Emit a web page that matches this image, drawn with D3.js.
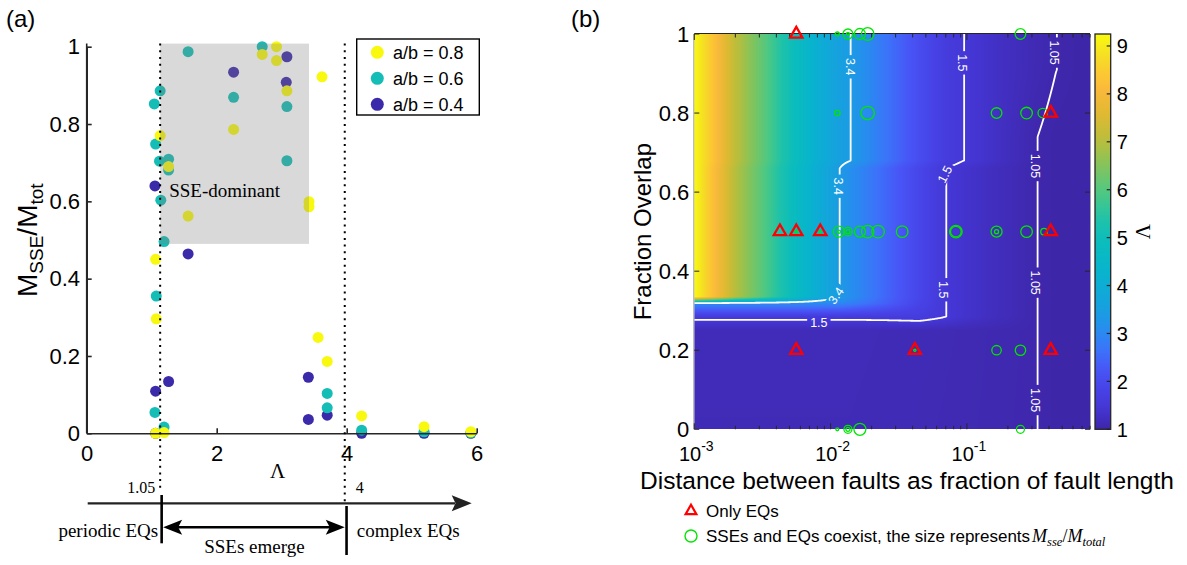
<!DOCTYPE html>
<html>
<head>
<meta charset="utf-8">
<script src="https://cdnjs.cloudflare.com/ajax/libs/d3/7.8.5/d3.min.js"></script>
<style>
  body { margin: 0; background: #fff; }
  svg text { font-family: Arial, "Liberation Sans", Helvetica, sans-serif; fill: #000; }
  svg .serif { font-family: "Liberation Serif", "Times New Roman", serif; }
</style>
</head>
<body>
<svg id="chart" width="1187" height="565"></svg>
<script>
// ---------- panel (a): [Lambda, Msse/Mtot] for each a/b ----------
const abLabels = ["a/b = 0.8", "a/b = 0.6", "a/b = 0.4"];
const pointsAB08 = [
  [1.06, 0.450], [1.07, 0.296], [1.13, 0.770], [1.26, 0.690], [1.56, 0.562], [2.26, 0.786],
  [2.70, 0.980], [2.92, 1.000], [2.92, 0.964], [3.08, 0.886], [3.42, 0.599], [3.42, 0.586],
  [3.62, 0.922], [3.56, 0.248], [3.70, 0.186], [1.06, 0.000], [1.19, 0.002], [4.23, 0.045],
  [5.19, 0.017], [5.91, 0.004]
];
const pointsAB06 = [
  [1.56, 0.987], [2.70, 1.000], [3.08, 0.845], [2.26, 0.869], [3.08, 0.705], [1.13, 0.886],
  [1.04, 0.852], [1.06, 0.748], [1.12, 0.704], [1.26, 0.709], [1.26, 0.681], [1.14, 0.603],
  [1.19, 0.496], [1.07, 0.355], [1.05, 0.054], [1.19, 0.016], [3.70, 0.103], [3.70, 0.066],
  [4.23, 0.008], [5.19, 0.004], [5.91, 0.001]
];
const pointsAB04 = [
  [3.08, 0.974], [2.26, 0.934], [3.07, 0.908], [1.05, 0.640], [1.56, 0.464], [1.06, 0.109],
  [1.26, 0.134], [3.41, 0.145], [3.70, 0.047], [3.41, 0.036], [4.23, 0.000], [5.19, 0.000],
  [5.91, 0.000], [1.06, 0.000]
];
const aXTicks = [0, 2, 4, 6];
const aYTicks = [0, 0.2, 0.4, 0.6, 0.8, 1];
const regimeBounds = [1.13, 3.97];          // dotted lines
const regimeBoundLabels = ["1.05", "4"];
const sseBox = { x0: 1.13, x1: 3.42, y0: 0.49, y1: 1.008 };

// ---------- panel (b): Lambda field over distance x overlap ----------
const distCols = [0.001, 0.0014, 0.002, 0.0032, 0.005, 0.0079, 0.0115, 0.0138, 0.025, 0.045, 0.069, 0.093, 0.16, 0.32, 0.45, 0.8];
const overlapRows = [0, 0.25, 0.285, 0.318, 0.335, 0.66, 0.68, 0.74, 0.91, 1];
const lambdaGrid = [
  [1.15, 1.15, 1.15, 1.15, 1.15, 1.15, 1.15, 1.15, 1.14, 1.13, 1.12, 1.11, 1.08, 1.055, 1.00, 0.96],
  [1.16, 1.16, 1.16, 1.16, 1.16, 1.16, 1.16, 1.16, 1.15, 1.14, 1.13, 1.12, 1.09, 1.055, 1.00, 0.96],
  [1.60, 1.60, 1.60, 1.60, 1.60, 1.60, 1.60, 1.60, 1.62, 1.66, 1.51, 1.38, 1.22, 1.055, 1.00, 0.96],
  [3.00, 3.00, 3.00, 3.00, 3.00, 3.00, 2.95, 2.85, 2.40, 1.85, 1.51, 1.38, 1.22, 1.055, 1.00, 0.96],
  [9.25, 8.20, 7.00, 6.00, 5.00, 4.00, 3.42, 3.15, 2.50, 1.90, 1.51, 1.38, 1.22, 1.055, 1.00, 0.96],
  [9.25, 8.20, 7.00, 6.00, 5.00, 4.00, 3.42, 3.15, 2.50, 1.90, 1.51, 1.38, 1.22, 1.055, 1.00, 0.96],
  [9.25, 8.30, 7.10, 6.10, 5.10, 4.10, 3.55, 3.42, 2.70, 2.05, 1.65, 1.51, 1.30, 1.055, 1.00, 0.96],
  [9.25, 8.30, 7.10, 6.10, 5.10, 4.10, 3.55, 3.42, 2.70, 2.05, 1.65, 1.51, 1.30, 1.055, 1.00, 0.96],
  [9.25, 8.30, 7.10, 6.10, 5.10, 4.10, 3.55, 3.42, 2.70, 2.05, 1.65, 1.51, 1.30, 1.12, 1.052, 0.98],
  [9.25, 8.30, 7.10, 6.10, 5.10, 4.10, 3.55, 3.42, 2.70, 2.05, 1.65, 1.51, 1.30, 1.12, 1.052, 0.98]
];
const lambdaRange = [1, 9.25];
const contourLevels = [1.05, 1.5, 3.4];
// [level, distance, overlap, label angle]
const contourLabels = [
  [3.4, 0.01387, 0.917, 90], [3.4, 0.01148, 0.615, 90], [3.4, 0.01094, 0.338, -55],
  [1.5, 0.0933, 0.927, 90], [1.5, 0.0689, 0.645, -63], [1.5, 0.0676, 0.353, 90], [1.5, 0.0082, 0.27, 0],
  [1.05, 0.4406, 0.953, 90], [1.05, 0.32, 0.666, 90], [1.05, 0.32, 0.371, 90], [1.05, 0.32, 0.074, 90]
];
// runs with earthquakes only: [distance, overlap]
const onlyEQs = [
  [0.0056, 1], [0.412, 0.8], [0.00425, 0.5], [0.0056, 0.5], [0.0084, 0.5], [0.412, 0.5],
  [0.0056, 0.2], [0.0415, 0.2], [0.412, 0.2]
];
// runs where SSEs and EQs coexist: [distance, overlap, Msse/Mtotal]
const coexist = [
  [0.0112, 1, 0.17], [0.0134, 1, 0.67], [0.0134, 1, 0.08], [0.0164, 1, 0.75], [0.0187, 1, 0.88], [0.247, 1, 0.72],
  [0.0112, 0.8, 0.28], [0.0187, 0.8, 0.95], [0.165, 0.8, 0.72], [0.274, 0.8, 0.8], [0.36, 0.8, 0.62],
  [0.0115, 0.5, 0.75], [0.0115, 0.5, 0.1], [0.0134, 0.5, 0.53], [0.0134, 0.5, 0.17], [0.0164, 0.5, 0.75],
  [0.0187, 0.5, 0.87], [0.0223, 0.5, 0.88], [0.0335, 0.5, 0.8], [0.083, 0.5, 0.88], [0.083, 0.5, 0.72],
  [0.165, 0.5, 0.75], [0.165, 0.5, 0.17], [0.274, 0.5, 0.8], [0.368, 0.5, 0.38],
  [0.0056, 0.5, 0.02], [0.0084, 0.5, 0.02], [0.0415, 0.2, 0.02],
  [0.165, 0.2, 0.62], [0.247, 0.2, 0.7],
  [0.0112, 0, 0.08], [0.0134, 0, 0.5], [0.0134, 0, 0.17], [0.0164, 0, 0.83], [0.247, 0, 0.5]
];
const bXTicks = [1e-3, 1e-2, 1e-1];
const bXTickExp = ["-3", "-2", "-1"];
const bYTicks = [0, 0.2, 0.4, 0.6, 0.8, 1];
const cbTicks = [1, 2, 3, 4, 5, 6, 7, 8, 9];

// parula-like colour map
const parulaStops = [
  [0.00, 62, 38, 168], [0.05, 68, 53, 210], [0.10, 71, 66, 230], [0.15, 72, 85, 246],
  [0.20, 60, 115, 250], [0.25, 40, 140, 240], [0.30, 25, 158, 225], [0.35, 15, 170, 215],
  [0.40, 8, 180, 205], [0.47, 10, 188, 190], [0.53, 30, 194, 170], [0.60, 80, 200, 130],
  [0.67, 135, 195, 90], [0.73, 185, 190, 60], [0.80, 225, 185, 50], [0.86, 250, 185, 60],
  [0.90, 252, 200, 50], [0.95, 245, 225, 35], [1.00, 249, 251, 14]
];
function parula(t) {
  t = Math.max(0, Math.min(1, t));
  let k = 0;
  while (k < parulaStops.length - 2 && t > parulaStops[k + 1][0]) k++;
  const a = parulaStops[k], b = parulaStops[k + 1];
  const u = (t - a[0]) / (b[0] - a[0]);
  return [1, 2, 3].map(i => a[i] + (b[i] - a[i]) * u);
}

const W = 1187, H = 565;
const svg = d3.select("#chart");
const defs = svg.append("defs");

// =================== panel (a) ===================
const xa = d3.scaleLinear().domain([0, 6]).range([86.7, 476.7]);
const ya = d3.scaleLinear().domain([0, 1]).range([433.3, 46.7]);
const ga = svg.append("g");

const aSeries = [
  { name: abLabels[0], pts: pointsAB08, color: "#f9f90f" },
  { name: abLabels[1], pts: pointsAB06, color: "#14bdb5" },
  { name: abLabels[2], pts: pointsAB04, color: "#3b2aa9" }
];

// draw 0.4 first, 0.8 last
aSeries.slice().reverse().forEach(s => {
  ga.append("g").selectAll("circle")
    .data(s.pts)
    .join("circle")
    .attr("cx", d => xa(d[0]))
    .attr("cy", d => ya(d[1]))
    .attr("r", 5.5)
    .attr("fill", s.color);
});

// SSE-dominant shaded box (drawn over the points)
ga.append("rect")
  .attr("x", xa(sseBox.x0)).attr("y", ya(sseBox.y1))
  .attr("width", xa(sseBox.x1) - xa(sseBox.x0))
  .attr("height", ya(sseBox.y0) - ya(sseBox.y1))
  .attr("fill", "#808080").attr("opacity", 0.3);

ga.append("text").attr("class", "serif")
  .attr("x", xa(sseBox.x0) + 9).attr("y", 196.7)
  .attr("font-size", 19).text("SSE-dominant");

// axes
const fmt = d3.format("~g");
const axA = ga.append("g").attr("transform", `translate(${xa(0)},0)`)
  .call(d3.axisLeft(ya).tickValues(aYTicks).tickSize(-5).tickSizeOuter(0).tickPadding(6.7).tickFormat(fmt));
const axB = ga.append("g").attr("transform", `translate(0,${ya(0)})`)
  .call(d3.axisBottom(xa).tickValues(aXTicks).tickSize(-5).tickSizeOuter(0).tickPadding(12).tickFormat(fmt));
[axA, axB].forEach(ax => {
  ax.attr("font-family", null).attr("font-size", 22);
  ax.select(".domain").attr("stroke", "#262626").attr("stroke-width", 1.6);
  ax.selectAll(".tick line").attr("stroke", "#262626").attr("stroke-width", 1.6);
  ax.selectAll(".tick text").attr("fill", "#000");
});
ga.append("line").attr("x1", xa(0)).attr("x2", xa(0)).attr("y1", ya(0)).attr("y2", ya(1.008))
  .attr("stroke", "#262626").attr("stroke-width", 1.6);

// dotted regime boundaries
const dotEnds = [492, 503];
regimeBounds.forEach((b, i) => {
  ga.append("line")
    .attr("x1", xa(b)).attr("x2", xa(b))
    .attr("y1", ya(1.008)).attr("y2", dotEnds[i])
    .attr("stroke", "#000").attr("stroke-width", 2)
    .attr("stroke-dasharray", "2 4.7");
});

// y label M_SSE/M_tot
const yl = ga.append("text")
  .attr("transform", "translate(37,297) rotate(-90)")
  .attr("font-size", 28);
yl.append("tspan").text("M");
yl.append("tspan").attr("font-size", 19).attr("dy", 6).text("SSE");
yl.append("tspan").attr("dy", -6).text("/M");
yl.append("tspan").attr("font-size", 19).attr("dy", 6).text("tot");

ga.append("text").attr("class", "serif")
  .attr("x", xa(3) - 4).attr("y", 478).attr("text-anchor", "middle")
  .attr("font-size", 21).text("Λ");

// legend (a)
const lg = ga.append("g");
lg.append("rect").attr("x", 356.7).attr("y", 39).attr("width", 122.6).attr("height", 76)
  .attr("fill", "#fff").attr("stroke", "#000").attr("stroke-width", 1.4);
aSeries.forEach((s, i) => {
  lg.append("circle").attr("cx", 377.3).attr("cy", 52.3 + i * 26).attr("r", 6.5).attr("fill", s.color);
  lg.append("text").attr("x", 393).attr("y", 52.3 + i * 26 + 6.5).attr("font-size", 18).text(s.name);
});

// regime arrow diagram
const arrowY = 503.3, dblY = 527.3;
const xs = regimeBounds.map(b => xa(b));
ga.append("line").attr("x1", xa(0) + 1).attr("x2", 455).attr("y1", arrowY).attr("y2", arrowY)
  .attr("stroke", "#222").attr("stroke-width", 2.2);
ga.append("path").attr("d", `M471.7,${arrowY} L451.7,${arrowY - 8} L455.5,${arrowY} L451.7,${arrowY + 8} Z`).attr("fill", "#222");
ga.append("line").attr("x1", xs[0] + 1.5).attr("x2", xs[0] + 1.5).attr("y1", 495).attr("y2", 543.3)
  .attr("stroke", "#000").attr("stroke-width", 2.6);
ga.append("line").attr("x1", xs[1] + 1.8).attr("x2", xs[1] + 1.8).attr("y1", 506).attr("y2", 555)
  .attr("stroke", "#000").attr("stroke-width", 2.6);
const la = xs[0] + 3, lb = xs[1];
ga.append("line").attr("x1", la + 12).attr("x2", lb - 12).attr("y1", dblY).attr("y2", dblY)
  .attr("stroke", "#000").attr("stroke-width", 2.6);
ga.append("path").attr("d", `M${la},${dblY} L${la + 19},${dblY - 7.5} L${la + 15},${dblY} L${la + 19},${dblY + 7.5} Z`);
ga.append("path").attr("d", `M${lb},${dblY} L${lb - 19},${dblY - 7.5} L${lb - 15},${dblY} L${lb - 19},${dblY + 7.5} Z`);

ga.append("text").attr("class", "serif").attr("x", xs[0] - 5).attr("y", 493.3)
  .attr("text-anchor", "end").attr("font-size", 16).text(regimeBoundLabels[0]);
ga.append("text").attr("class", "serif").attr("x", xs[1] + 11).attr("y", 493.3)
  .attr("font-size", 16).text(regimeBoundLabels[1]);
ga.append("text").attr("class", "serif").attr("x", xs[0] - 2).attr("y", 536.7)
  .attr("text-anchor", "end").attr("font-size", 19).text("periodic EQs");
ga.append("text").attr("class", "serif").attr("x", xs[1] + 12).attr("y", 536.7)
  .attr("font-size", 19).text("complex EQs");
ga.append("text").attr("class", "serif").attr("x", (xs[0] + xs[1]) / 2 + 2).attr("y", 553.3)
  .attr("text-anchor", "middle").attr("font-size", 19).text("SSEs emerge");

svg.append("text").attr("x", 6).attr("y", 27).attr("font-size", 24).text("(a)");
svg.append("text").attr("x", 571).attr("y", 27).attr("font-size", 24).text("(b)");

// =================== panel (b) ===================
const bx = d3.scaleLog().domain([1e-3, 0.8]).range([694.3, 1090]);
const by = d3.scaleLinear().domain([0, 1]).range([429.3, 34]);
const x0 = bx.range()[0], x1 = bx.range()[1], y0 = by.range()[1], y1 = by.range()[0];
const pw = Math.round(x1 - x0), ph = Math.round(y1 - y0);
const logCols = distCols.map(Math.log10);
const cnorm = d3.scaleLinear().domain(lambdaRange).range([0, 1]).clamp(true);

function cellIndex(arr, v) {
  const k = d3.bisectRight(arr, v) - 1;
  return Math.max(0, Math.min(arr.length - 2, k));
}
function lambdaAt(ld, f) {
  const i = cellIndex(logCols, ld), j = cellIndex(overlapRows, f);
  const tx = Math.max(0, Math.min(1, (ld - logCols[i]) / (logCols[i + 1] - logCols[i])));
  const ty = Math.max(0, Math.min(1, (f - overlapRows[j]) / (overlapRows[j + 1] - overlapRows[j])));
  const r0 = lambdaGrid[j], r1 = lambdaGrid[j + 1];
  const a = r0[i] * (1 - tx) + r0[i + 1] * tx;
  const b = r1[i] * (1 - tx) + r1[i + 1] * tx;
  return a * (1 - ty) + b * ty;
}
function valueAtPixel(px, py) {
  const ld = Math.log10(bx.invert(px));
  return lambdaAt(ld, by.invert(py));
}

// heat map image
const canvas = document.createElement("canvas");
canvas.width = pw; canvas.height = ph;
const ctx = canvas.getContext("2d");
const img = ctx.createImageData(pw, ph);
for (let j = 0; j < ph; j++) {
  for (let i = 0; i < pw; i++) {
    const c = parula(cnorm(valueAtPixel(x0 + i + 0.5, y0 + j + 0.5)));
    const o = (j * pw + i) * 4;
    img.data[o] = c[0]; img.data[o + 1] = c[1]; img.data[o + 2] = c[2]; img.data[o + 3] = 255;
  }
}
ctx.putImageData(img, 0, 0);
const gb = svg.append("g");
gb.append("image").attr("href", canvas.toDataURL())
  .attr("x", x0).attr("y", y0).attr("width", pw).attr("height", ph)
  .attr("preserveAspectRatio", "none");

// contours
const pad = 4, cn = pw + 2 * pad, cm = ph + 2 * pad;
const cvals = new Float64Array(cn * cm);
for (let j = 0; j < cm; j++) {
  for (let i = 0; i < cn; i++) {
    cvals[j * cn + i] = valueAtPixel(x0 - pad + i + 0.5, y0 - pad + j + 0.5);
  }
}
const isos = d3.contours().size([cn, cm]).thresholds(contourLevels)(cvals);

defs.append("clipPath").attr("id", "bclip").append("rect")
  .attr("x", x0).attr("y", y0).attr("width", pw).attr("height", ph);
const gapMask = defs.append("mask").attr("id", "gapmask")
  .attr("maskUnits", "userSpaceOnUse").attr("x", 0).attr("y", 0).attr("width", W).attr("height", H);
gapMask.append("rect").attr("width", W).attr("height", H).attr("fill", "#fff");

const cg = gb.append("g").attr("clip-path", "url(#bclip)").attr("mask", "url(#gapmask)");
cg.append("g").attr("transform", `translate(${x0 - pad},${y0 - pad})`)
  .selectAll("path")
  .data(isos)
  .join("path")
  .attr("d", d3.geoPath())
  .attr("fill", "none")
  .attr("stroke", "#fff")
  .attr("stroke-width", 1.8)
  .attr("stroke-linejoin", "round");

const labG = gb.append("g");
contourLabels.forEach(([lev, d, f, ang]) => {
  const px = bx(d), py = by(f);
  const t = labG.append("text")
    .attr("transform", `translate(${px},${py}) rotate(${ang})`)
    .attr("text-anchor", "middle").attr("dy", "0.35em")
    .attr("font-size", 12.5).style("fill", "#fff")
    .text(String(lev));
  const len = t.node().getComputedTextLength();
  gapMask.append("rect")
    .attr("x", -len / 2 - 3).attr("y", -5.5).attr("width", len + 6).attr("height", 11)
    .attr("transform", `translate(${px},${py}) rotate(${ang})`)
    .attr("fill", "#000");
});

// frame and ticks
gb.append("line").attr("x1", x0).attr("x2", x1).attr("y1", y0 - 0.5).attr("y2", y0 - 0.5)
  .attr("stroke", "#262626").attr("stroke-width", 1.2);
gb.append("line").attr("x1", x0 - 0.5).attr("x2", x0 - 0.5).attr("y1", y0).attr("y2", y1)
  .attr("stroke", "#a0a0a0").attr("stroke-width", 1);
gb.append("line").attr("x1", x1 + 0.5).attr("x2", x1 + 0.5).attr("y1", y0).attr("y2", y1)
  .attr("stroke", "#a0a0a0").attr("stroke-width", 1);

const minor = bx.ticks().filter(v => v >= 1e-3 && v <= 0.8);
[[y1, -1], [y0, 1]].forEach(([yy, dir]) => {
  gb.append("g").selectAll("line").data(minor).join("line")
    .attr("x1", d => bx(d)).attr("x2", d => bx(d))
    .attr("y1", yy).attr("y2", d => yy + dir * (bXTicks.includes(d) ? 6 : 3.5))
    .attr("stroke", "#262626").attr("stroke-width", 1);
});
[[x0, 1], [x1, -1]].forEach(([xx, dir]) => {
  gb.append("g").selectAll("line").data(bYTicks).join("line")
    .attr("x1", xx).attr("x2", xx + dir * 5)
    .attr("y1", d => by(d)).attr("y2", d => by(d))
    .attr("stroke", "#262626").attr("stroke-width", 1);
});

gb.append("g").selectAll("text").data(bYTicks).join("text")
  .attr("x", x0 - 5).attr("y", d => by(d)).attr("dy", "0.36em")
  .attr("text-anchor", "end").attr("font-size", 22)
  .text(fmt);

const xt = gb.append("g").selectAll("text").data(bXTicks).join("text")
  .attr("x", d => bx(d) + 2).attr("y", 461).attr("text-anchor", "middle").attr("font-size", 20);
xt.append("tspan").text("10");
xt.append("tspan").attr("font-size", 14).attr("dy", -10).text((d, i) => bXTickExp[i]);

gb.append("text").attr("x", 907).attr("y", 489).attr("text-anchor", "middle")
  .attr("font-size", 24.5).text("Distance between faults as fraction of fault length");
gb.append("text").attr("transform", `translate(651,${by(0.5)}) rotate(-90)`)
  .attr("text-anchor", "middle").attr("font-size", 24).text("Fraction Overlap");

// markers
const rScale = d3.scaleLinear().domain([0, 1]).range([1, 7]);
gb.append("g").selectAll("circle").data(coexist).join("circle")
  .attr("cx", d => bx(d[0])).attr("cy", d => by(d[1])).attr("r", d => rScale(d[2]))
  .attr("fill", "none").attr("stroke", "#00e600").attr("stroke-width", 1.3);
const tri = d3.symbol(d3.symbolTriangle, 66);
gb.append("g").selectAll("path").data(onlyEQs).join("path")
  .attr("transform", d => `translate(${bx(d[0])},${by(d[1])})`)
  .attr("d", tri).attr("fill", "none").attr("stroke", "#ff0000").attr("stroke-width", 2.3);

// colour bar
const cbx = 1095, cbw = 15.7;
const cby = d3.scaleLinear().domain(lambdaRange).range([y1, y0]);
const grad = defs.append("linearGradient").attr("id", "cbgrad")
  .attr("x1", 0).attr("y1", 1).attr("x2", 0).attr("y2", 0);
d3.range(0, 1.0001, 0.02).forEach(t => {
  const c = parula(t);
  grad.append("stop").attr("offset", t).attr("stop-color", `rgb(${c.map(Math.round).join(",")})`);
});
gb.append("rect").attr("x", cbx).attr("y", y0).attr("width", cbw).attr("height", y1 - y0)
  .attr("fill", "url(#cbgrad)").attr("stroke", "#262626").attr("stroke-width", 1.3);
gb.append("g").selectAll("line").data(cbTicks).join("line")
  .attr("x1", cbx + cbw).attr("x2", cbx + cbw - 4).attr("y1", d => cby(d)).attr("y2", d => cby(d))
  .attr("stroke", "#262626").attr("stroke-width", 1.2);
gb.append("g").selectAll("text").data(cbTicks).join("text")
  .attr("x", cbx + cbw + 6).attr("y", d => cby(d)).attr("dy", "0.36em")
  .attr("font-size", 20).text(d => d);
gb.append("text").attr("class", "serif")
  .attr("transform", `translate(1150,${by(0.5)}) rotate(-90)`)
  .attr("text-anchor", "middle").attr("font-size", 21).text("Λ");

// legend (b)
gb.append("path").attr("transform", "translate(691,511)")
  .attr("d", d3.symbol(d3.symbolTriangle, 50)).attr("fill", "none")
  .attr("stroke", "#ff0000").attr("stroke-width", 2.2);
gb.append("text").attr("x", 706).attr("y", 517).attr("font-size", 17).text("Only EQs");
gb.append("circle").attr("cx", 691).attr("cy", 536).attr("r", 6)
  .attr("fill", "none").attr("stroke", "#00e600").attr("stroke-width", 1.4);
const lt = gb.append("text").attr("x", 706).attr("y", 542).attr("font-size", 17);
lt.append("tspan").text("SSEs and EQs coexist, the size represents");
const mt = (s, sz, dy) => lt.append("tspan").attr("class", "serif").attr("font-style", "italic")
  .attr("font-size", sz).attr("dy", dy).text(s);
mt("M", 18, 0).attr("dx", 2);
mt("sse", 12.5, 4);
lt.append("tspan").attr("class", "serif").attr("font-size", 18).attr("dy", -4).text("/");
mt("M", 18, 0);
mt("total", 12.5, 4);
</script>
</body>
</html>
